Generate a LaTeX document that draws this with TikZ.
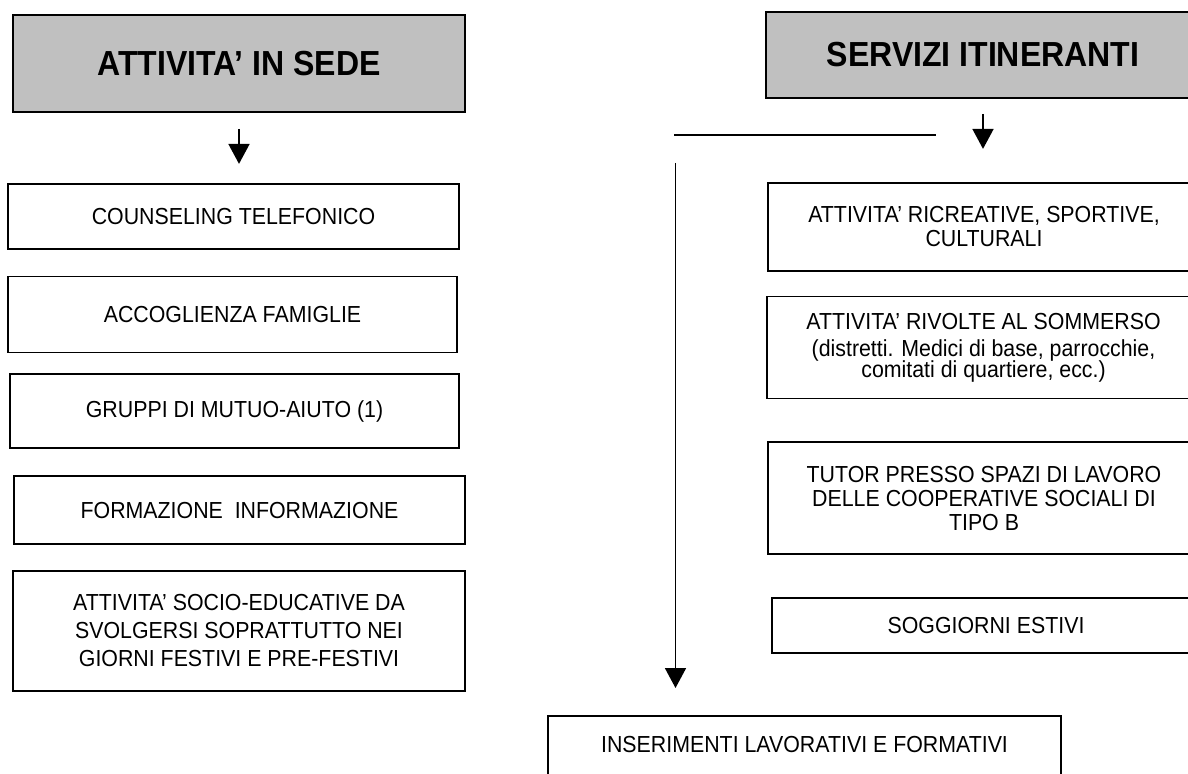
\documentclass[tikz,border=0pt]{standalone}
\usepackage{fontspec}
\setmainfont{Liberation Sans}[FakeStretch=0.92]
\usetikzlibrary{positioning,arrows.meta}
\definecolor{grigio}{RGB}{192,192,192}
\tikzset{
  tit/.style={rectangle, text centered, draw=black, fill=grigio, font=\fontsize{17.4}{20}\selectfont\bfseries},
  vc/.style={rectangle, text centered, align=center, draw=black, fill=white, font=\fontsize{11.6}{12}\selectfont},
  node distance=12pt
}
\begin{document}
\begin{tikzpicture}[x=0.5pt, y=-0.5pt, line width=0.9pt, >={Triangle[length=10pt,width=10.5pt]}]
	\clip (0,0) rectangle (1188,774);
	\node[tit, minimum width=226pt, minimum height=48.5pt] (sede) at (239,63.5) {ATTIVITA’ IN SEDE};
	\node[vc, minimum width=225.5pt, minimum height=32.5pt, below=35pt of sede, xshift=-2.75pt] (couns) {COUNSELING TELEFONICO};
	\node[vc, minimum width=224.5pt, minimum height=38pt, below=13pt of couns, xshift=-0.5pt] (famiglie) {ACCOGLIENZA FAMIGLIE};
	\node[vc, minimum width=224.5pt, minimum height=37pt, below=10pt of famiglie, xshift=1pt] (mutuo) {GRUPPI DI MUTUO-AIUTO (1)};
	\node[vc, minimum width=225.5pt, minimum height=34pt, below=13pt of mutuo, xshift=2.5pt] (formaz) {FORMAZIONE \ INFORMAZIONE};
	\node[vc, minimum width=226pt, minimum height=60pt, below=12.5pt of formaz, xshift=-0.25pt] (socio) {ATTIVITA’ SOCIO-EDUCATIVE DA\\[2pt] SVOLGERSI SOPRATTUTTO NEI\\[2pt] GIORNI FESTIVI E PRE-FESTIVI};
	%
	\node[tit, minimum width=217pt, minimum height=43pt] (itin) at (983,55) {SERVIZI ITINERANTI};
	\node[vc, minimum width=216pt, minimum height=44pt, below=41.5pt of itin, xshift=0.5pt] (ricr) {ATTIVITA’ RICREATIVE, SPORTIVE,\\ CULTURALI};
	\node[vc, minimum width=216.5pt, minimum height=51pt, below=of ricr, xshift=-0.25pt] (somm) {ATTIVITA’ RIVOLTE AL SOMMERSO\\[1.3pt] (distretti. Medici di base, parrocchie,\\[-1.5pt] comitati di quartiere, ecc.)};
	\node[vc, minimum width=216pt, minimum height=56pt, below=21pt of somm, xshift=0.25pt] (tutor) {TUTOR PRESSO SPAZI DI LAVORO\\ DELLE COOPERATIVE SOCIALI DI\\ TIPO B};
	\node[vc, minimum width=214pt, minimum height=27.5pt, below=21pt of tutor, xshift=1pt] (estivi) {SOGGIORNI ESTIVI};
	\node[vc, anchor=north, minimum width=256.5pt, text height=8.5pt, text depth=30pt, inner ysep=10pt] (inserim) at (804.5,715) {INSERIMENTI LAVORATIVI E FORMATIVI};
	%
	\coordinate (hsx) at (674,135);
	\coordinate (hdx) at (936,135);
	\coordinate (vsu) at (675.5,163);
	\draw[->, shorten <=8pt, shorten >=9.5pt] (sede.south) -- (sede.south |- couns.north);
	\draw[->, shorten <=7.5pt, shorten >=16.5pt] (itin.south) -- (itin.south |- ricr.north);
	\draw (hsx) -- (hdx);
	\draw[->, shorten >=13.5pt] (vsu) -- (vsu |- inserim.north);
\end{tikzpicture}
\end{document}
